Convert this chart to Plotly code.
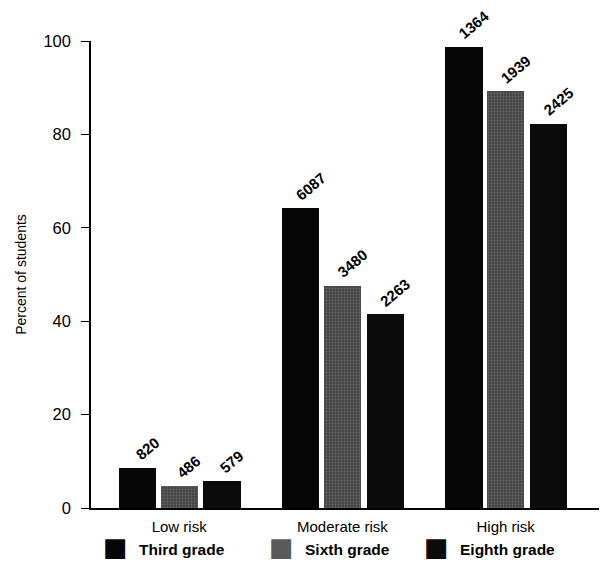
import plotly.graph_objects as go

categories = ["Low risk", "Moderate risk", "High risk"]
series_names = ["Third grade", "Sixth grade", "Eighth grade"]
third = [8.6, 64.2, 98.7]
sixth = [4.7, 47.6, 89.2]
eighth = [5.8, 41.5, 82.3]
third_n = ["820", "6087", "1364"]
sixth_n = ["486", "3480", "1939"]
eighth_n = ["579", "2263", "2425"]
y_ticks = [0, 20, 40, 60, 80, 100]

values = [third, sixth, eighth]
counts = [third_n, sixth_n, eighth_n]
offsets = [-0.255, 0.0, 0.262]
colors = ["#060606", "#555555", "#0b0b0b"]
width = 0.228

fig = go.Figure()
xs = list(range(len(categories)))
for i, name in enumerate(series_names):
    marker = dict(color=colors[i], line=dict(width=0))
    if i == 1:
        marker["pattern"] = dict(shape=".", fgcolor="#8a8a8a", bgcolor="#444444", size=3, solidity=0.3)
    fig.add_trace(go.Bar(
        x=[x + offsets[i] for x in xs], y=values[i], width=width,
        marker=marker, showlegend=False, hoverinfo="skip"))
    for x, v, c in zip(xs, values[i], counts[i]):
        fig.add_annotation(x=x + offsets[i] + 0.06, y=v, text=c, showarrow=False,
                           textangle=-40, xanchor="center", yanchor="bottom", yshift=2,
                           font=dict(family="Arial, Liberation Sans", size=15, color="black", weight="bold"))

# legend entries
leg_x = [0.048, 0.372, 0.677]
for i, name in enumerate(series_names):
    sym_color = colors[i] if i != 1 else "#5a5a5a"
    fig.add_annotation(xref="paper", yref="paper", x=leg_x[i], y=-0.084, text="■",
                       showarrow=False, xanchor="center", yanchor="middle",
                       font=dict(family="DejaVu Sans", size=26, color=sym_color))
    fig.add_annotation(xref="paper", yref="paper", x=leg_x[i] + 0.042, y=-0.088, text=name,
                       showarrow=False, xanchor="left", yanchor="middle",
                       font=dict(family="Arial, Liberation Sans", size=15.5, color="black", weight="bold"))

fig.update_layout(
    width=599, height=572,
    margin=dict(l=83, r=5, t=33, b=72, autoexpand=False),
    plot_bgcolor="white", paper_bgcolor="white",
    bargap=0, barmode="overlay",
    font=dict(family="Arial, Liberation Sans", color="black"),
    xaxis=dict(range=[-0.54, 2.59], tickmode="array", tickvals=xs, ticktext=categories,
               showline=True, linecolor="black", linewidth=1.5, ticks="", showgrid=False,
               zeroline=False, tickfont=dict(size=15), ticklabelstandoff=4, automargin=False),
    yaxis=dict(range=[0, 100], tickvals=y_ticks, showline=True, linecolor="black", linewidth=1.5,
               ticks="outside", ticklen=8, tickwidth=1.2, tickcolor="black", showgrid=False,
               zeroline=False, tickfont=dict(size=16.5), ticklabelstandoff=7, automargin=False,
               title=dict(text="Percent of students", font=dict(size=14), standoff=14)),
)

fig.write_html("out.html")
